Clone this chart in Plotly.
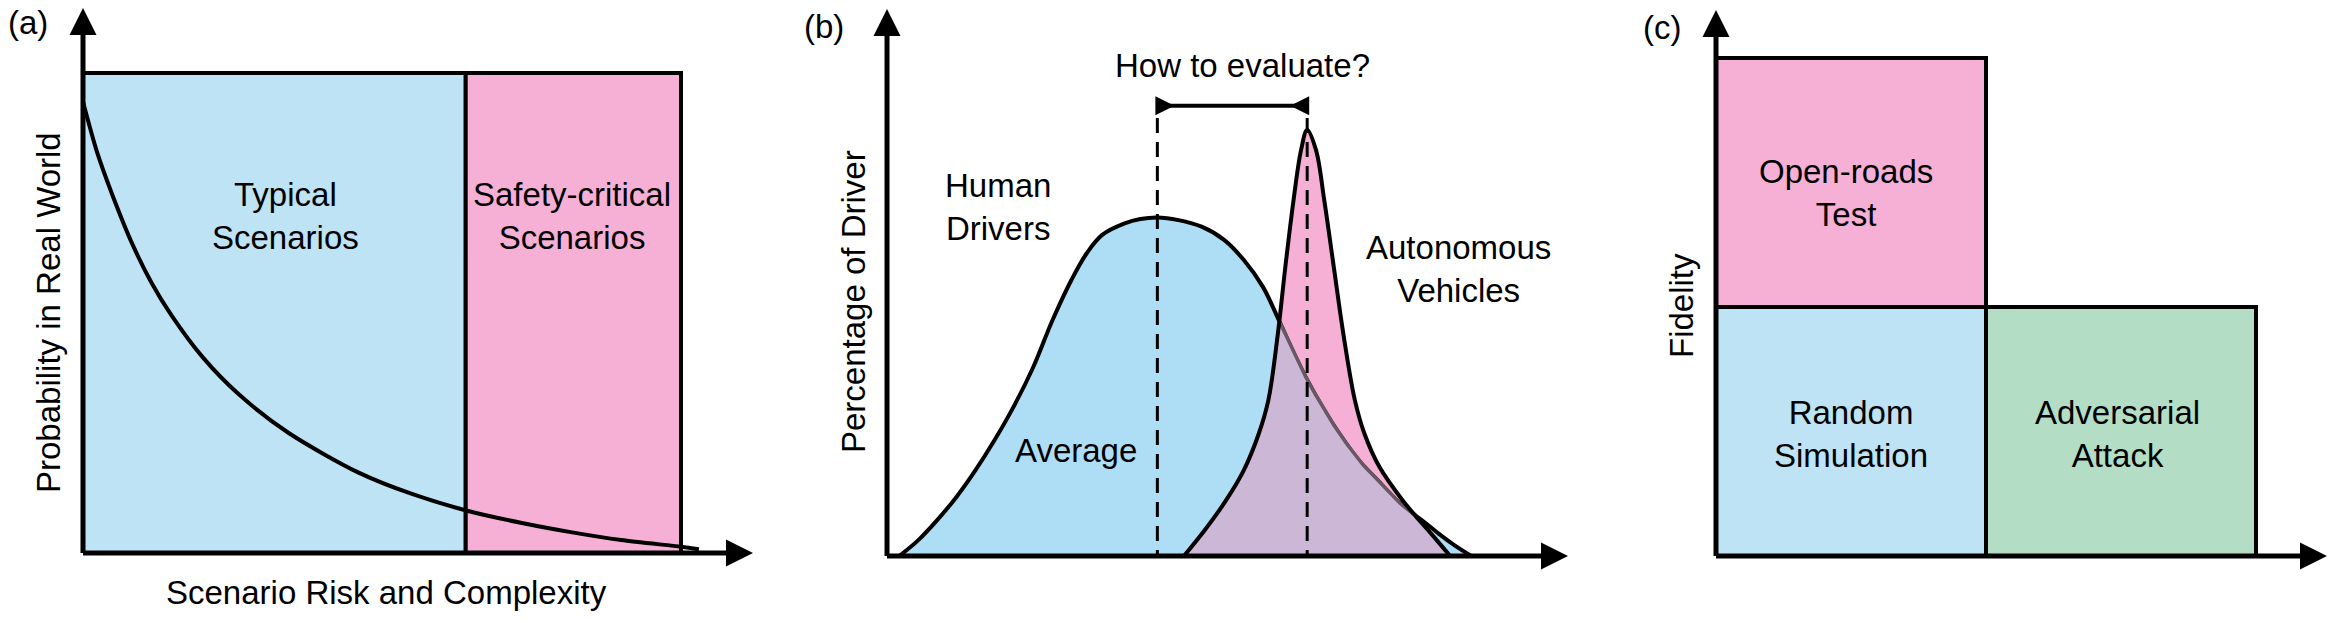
import numpy as np
import plotly.graph_objects as go

W, H = 2339, 621

# ---------------- data ----------------
# Panel (a): scenario regions and long-tail probability curve
region_names = ["Typical<br>Scenarios", "Safety-critical<br>Scenarios"]
region_edges = [0.0, 0.64, 1.0]
region_top = 1.0
risk_x = [0, 0.0235, 0.0485, 0.082, 0.115, 0.148, 0.2, 0.261, 0.344, 0.46,
          0.55, 0.644, 0.736, 0.818, 0.90, 1.0, 1.03]
prob_y = [0.94, 0.835, 0.748, 0.645, 0.562, 0.495, 0.408, 0.33, 0.25, 0.168,
          0.123, 0.0875, 0.062, 0.043, 0.027, 0.013, 0.008]

# Panel (b): distributions of safety
human_x = [0.18, 0.46, 0.74, 1.02, 1.30, 1.58, 1.86, 2.15, 2.43, 2.71, 2.93, 3.16,
           3.49, 3.72, 3.97, 4.28, 4.62, 4.95, 5.24, 5.52, 5.74, 5.97, 6.17, 6.42,
           6.64, 6.92, 7.20, 7.48, 7.65, 7.88, 8.10, 8.33, 8.58]
human_y = [0, 0.29, 0.66, 1.08, 1.57, 2.12, 2.73, 3.46, 4.31, 5.05, 5.53, 5.87,
           6.08, 6.16, 6.19, 6.14, 6.02, 5.78, 5.41, 4.92, 4.35, 3.72, 3.22, 2.67,
           2.24, 1.76, 1.39, 1.02, 0.84, 0.63, 0.41, 0.20, 0]
av_x = [4.36, 4.67, 4.98, 5.24, 5.46, 5.60, 5.74, 5.85, 5.97, 6.08, 6.17, 6.30,
        6.42, 6.56, 6.70, 6.87, 7.01, 7.23, 7.57, 7.77, 7.99, 8.27]
av_y = [0, 0.48, 1.02, 1.57, 2.24, 2.85, 4.07, 5.29, 6.51, 7.42, 7.79, 7.42,
        6.51, 5.29, 4.07, 2.85, 2.24, 1.63, 1.02, 0.72, 0.41, 0]
human_mean = 3.97
av_peak = 6.17
bracket_level = 8.23

# Panel (c): testing approaches
cell_names = ["Random<br>Simulation", "Adversarial<br>Attack", "Open-roads<br>Test"]
cell_col = [0, 1, 0]
cell_row = [0, 0, 1]

# ---------------- styling ----------------
FONT = "Liberation Sans, Arial, sans-serif"
FS = 33
PINK = "rgb(246,176,214)"
BLUE_A = "rgb(190,227,245)"
BLUE_B = "rgb(174,222,246)"
PURPLE = "rgb(204,184,214)"
GREEN = "rgb(179,222,197)"
GREYLINE = "rgb(105,88,100)"

# pixel mapping per panel: origin pixel and pixels per unit
P = {
    "a": dict(px0=83, sx=598, py0=553, sy=480, xr=[-0.12, 1.16], yr=[-0.1, 1.14], ax="x", ay="y"),
    "b": dict(px0=887, sx=68.1, py0=556, sy=54.7, xr=[-0.5, 10.3], yr=[-0.6, 10.05], ax="x2", ay="y2"),
    "c": dict(px0=1716, sx=270, py0=556, sy=249, xr=[-0.2, 2.3], yr=[-0.15, 2.2], ax="x3", ay="y3"),
}


def dx(p, px):
    return (px - P[p]["px0"]) / P[p]["sx"]


def dy(p, py):
    return (P[p]["py0"] - py) / P[p]["sy"]


fig = go.Figure()


def add(p, **kw):
    kw.setdefault("showlegend", False)
    kw.setdefault("hoverinfo", "skip")
    fig.add_trace(go.Scatter(xaxis=P[p]["ax"], yaxis=P[p]["ay"], **kw))


def axes_arrows(p, tipx_px, tipy_px):
    tx, ty = dx(p, tipx_px), dy(p, tipy_px)
    add(p, x=[0, dx(p, tipx_px - 18)], y=[0, 0], mode="lines",
        line=dict(color="black", width=5))
    add(p, x=[0, 0], y=[0, dy(p, tipy_px + 18)], mode="lines",
        line=dict(color="black", width=5))
    add(p, x=[tx], y=[0], mode="markers", cliponaxis=False,
        marker=dict(symbol="arrow-right", size=27, color="black", line=dict(width=0)))
    add(p, x=[0], y=[ty], mode="markers", cliponaxis=False,
        marker=dict(symbol="arrow-up", size=27, color="black", line=dict(width=0)))


# ---------------- panel (a) ----------------
for i, col in enumerate([BLUE_A, PINK]):
    x0, x1 = region_edges[i], region_edges[i + 1]
    add("a", x=[x0, x1, x1, x0, x0], y=[0, 0, region_top, region_top, 0],
        mode="lines", fill="toself", fillcolor=col,
        line=dict(color="black", width=4))
add("a", x=risk_x, y=prob_y, mode="lines",
    line=dict(color="black", width=4, shape="spline", smoothing=0.8))
axes_arrows("a", 753, 8)

# ---------------- panel (b) ----------------
add("b", x=human_x, y=human_y, mode="lines", fill="toself", fillcolor=BLUE_B,
    line=dict(color="rgba(0,0,0,0)", width=0, shape="spline"))
add("b", x=av_x, y=av_y, mode="lines", fill="toself", fillcolor=PINK,
    line=dict(color="rgba(0,0,0,0)", width=0, shape="spline"))
add("b", x=human_x, y=human_y, mode="lines", line=dict(color="black", width=4, shape="spline"))

grid = np.linspace(av_x[0], av_x[-1], 500)
h_g = np.interp(grid, human_x, human_y)
a_g = np.interp(grid, av_x, av_y)
m_g = np.minimum(h_g, a_g)
add("b", x=list(grid) + [grid[-1], grid[0]], y=list(m_g) + [0, 0], mode="lines",
    fill="toself", fillcolor=PURPLE, line=dict(width=0, color="rgba(0,0,0,0)"))
inside = [float(hv) if (hv <= av + 1e-9 and av > 0.3) else None
          for hv, av in zip(h_g, a_g)]
add("b", x=list(grid), y=inside, mode="lines", connectgaps=False,
    line=dict(color=GREYLINE, width=3.5))
add("b", x=av_x, y=av_y, mode="lines", line=dict(color="black", width=4, shape="spline"))

# dashed marker lines and bracket
for xv in [human_mean, av_peak]:
    add("b", x=[xv, xv], y=[dy("b", 118), 0], mode="lines",
        line=dict(color="black", width=3, dash="15px,9px"))
add("b", x=[human_mean, av_peak], y=[bracket_level, bracket_level], mode="lines",
    line=dict(color="black", width=4))
add("b", x=[human_mean + 17 / P["b"]["sx"]], y=[bracket_level], mode="markers", cliponaxis=False,
    marker=dict(symbol="arrow-right", size=19, color="black", line=dict(width=0)))
add("b", x=[av_peak - 17 / P["b"]["sx"]], y=[bracket_level], mode="markers", cliponaxis=False,
    marker=dict(symbol="arrow-left", size=19, color="black", line=dict(width=0)))
axes_arrows("b", 1568, 9)

# ---------------- panel (c) ----------------
cell_colors = [BLUE_A, GREEN, PINK]
for c, r, col in zip(cell_col, cell_row, cell_colors):
    add("c", x=[c, c + 1, c + 1, c, c], y=[r, r, r + 1, r + 1, r], mode="lines",
        fill="toself", fillcolor=col, line=dict(color="black", width=4))
axes_arrows("c", 2327, 10)

# ---------------- annotations ----------------
ann = []


def text(p, px, py, t, angle=0):
    ann.append(dict(x=dx(p, px), y=dy(p, py), xref=P[p]["ax"], yref=P[p]["ay"],
                    text=t, showarrow=False, textangle=angle,
                    font=dict(family=FONT, size=FS, color="black"),
                    xanchor="center", yanchor="middle"))


def label(px, py, t):
    ann.append(dict(x=px / W, y=1 - py / H, xref="paper", yref="paper", text=t,
                    showarrow=False, font=dict(family=FONT, size=FS, color="black"),
                    xanchor="center", yanchor="middle"))


label(28, 22, "(a)")
label(824, 27, "(b)")
label(1662, 28, "(c)")

# panel a
text("a", 285, 216, region_names[0])
text("a", 572, 216, region_names[1])
text("a", 48, 313, "Probability in Real World", -90)
text("a", 386, 592, "Scenario Risk and Complexity")

# panel b
text("b", 1242, 65, "How to evaluate?")
text("b", 998, 207, "Human<br>Drivers")
text("b", 1458, 269, "Autonomous<br>Vehicles")
text("b", 1076, 450, "Average")
text("b", 1219, 594, "Safety")
text("b", 853, 302, "Percentage of Driver", -90)

# panel c
cell_text_px = [(1851, 434), (2117, 434), (1846, 193)]
for name, (tx, ty) in zip(cell_names, cell_text_px):
    text("c", tx, ty, name)
text("c", 1682, 306, "Fidelity", -90)
text("c", 2000, 594, "Number of Risky Scenarios")

layout = dict(width=W, height=H, margin=dict(l=0, r=0, t=0, b=0),
              paper_bgcolor="white", plot_bgcolor="rgba(0,0,0,0)",
              annotations=ann, showlegend=False)
for k, p in P.items():
    xa = dict(range=p["xr"], visible=False, fixedrange=True,
              domain=[(p["px0"] + p["xr"][0] * p["sx"]) / W, (p["px0"] + p["xr"][1] * p["sx"]) / W],
              anchor=p["ay"])
    ya = dict(range=p["yr"], visible=False, fixedrange=True,
              domain=[1 - (p["py0"] - p["yr"][0] * p["sy"]) / H, 1 - (p["py0"] - p["yr"][1] * p["sy"]) / H],
              anchor=p["ax"])
    suffix = "" if p["ax"] == "x" else p["ax"][1:]
    layout["xaxis" + suffix] = xa
    layout["yaxis" + suffix] = ya

fig.update_layout(**layout)
fig.write_html("out.html", config={"displayModeBar": False},
               post_script="document.body.style.margin='0';document.body.style.overflow='hidden';")
